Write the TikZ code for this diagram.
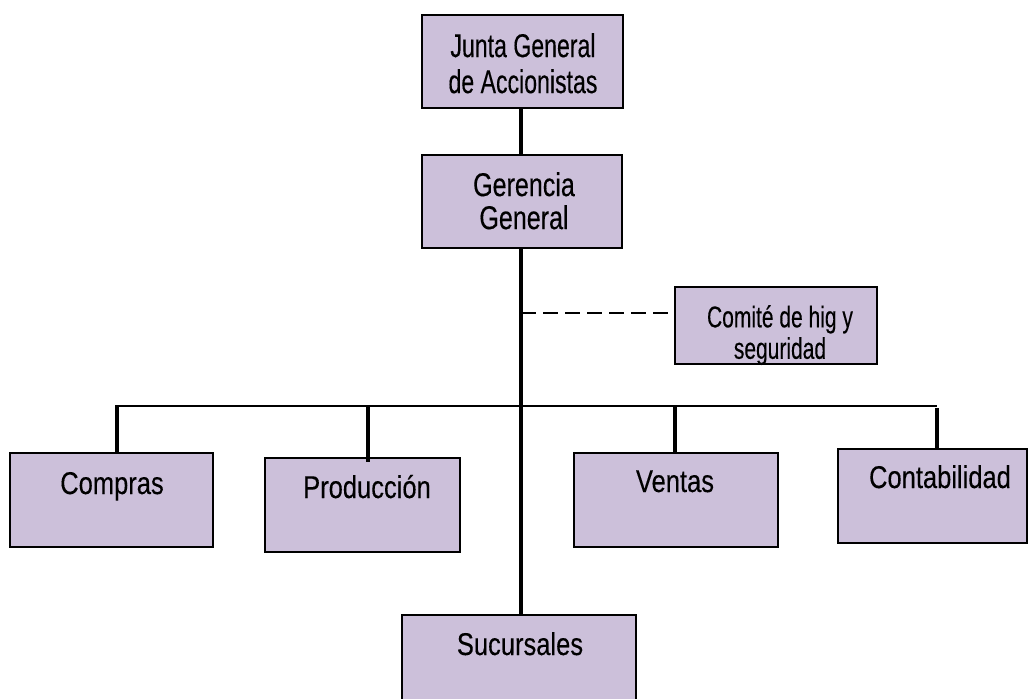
\documentclass[tikz,border=0pt]{standalone}
\usepackage{fontspec}
\setmainfont{Liberation Sans}
\newfontfamily\fmain[FakeStretch=0.81,FakeBold=0.25]{Liberation Sans}
\newfontfamily\fger[FakeStretch=0.76,FakeBold=0.25]{Liberation Sans}
\newfontfamily\fnarrow[FakeStretch=0.70,FakeBold=0.25]{Liberation Sans}
\definecolor{boxfill}{RGB}{204,192,218}
\tikzset{
  unitbox/.style={draw=black, line width=1.9pt, fill=boxfill, rectangle, inner sep=0pt},
  lbl/.style={inner sep=0pt, text=black},
  mainlbl/.style={lbl, font=\fmain\fontsize{31.5}{34}\selectfont, anchor=base},
  juntalbl/.style={lbl, font=\fnarrow\fontsize{33}{36}\selectfont, align=center, anchor=north},
  gerlbl/.style={lbl, font=\fger\fontsize{33}{33}\selectfont, align=center, anchor=north},
  comlbl/.style={lbl, font=\fnarrow\fontsize{30}{31.5}\selectfont, align=center, anchor=north},
  link/.style={line width=3.8pt},
  bar/.style={line width=1.4pt},
  dashlink/.style={line width=1.7pt, dash pattern=on 15pt off 7pt}
}
\begin{document}
\begin{tikzpicture}[x=1pt, y=-1pt]
\useasboundingbox (0,0) rectangle (1029,699);
\clip (0,0) rectangle (1029,699);

% boxes given by their corners
\newcommand{\unit}[5]{%
  \node[unitbox, minimum width={#4-#2}, minimum height={#5-#3}]
    (#1) at ({(#2+#4)/2},{(#3+#5)/2}) {};}
\unit{junta}{422}{15}{623}{108}
\unit{gerencia}{422}{155}{622}{248}
\unit{comite}{675}{287}{877}{364}
\unit{compras}{10}{453}{213}{547}
\unit{produccion}{265}{458}{460}{552}
\unit{ventas}{574}{453}{778}{547}
\unit{contab}{838}{449}{1027}{543}
\unit{sucursales}{402}{615}{636}{712}

% labels
\node[juntalbl] (tjunta) at (523,33) {Junta General\\de Accionistas};
\node[gerlbl] (tgerencia) at (524,172) {Gerencia\\General};
\node[comlbl] (tcomite) at (780,305) {Comité de hig y\\seguridad};
\node[mainlbl] (tcompras) at (112,494) {Compras};
\node[mainlbl] (tproduccion) at (367,498) {Producción};
\node[mainlbl] (tventas) at (675,492) {Ventas};
\node[mainlbl] (tcontab) at (940,488) {Contabilidad};
\node[mainlbl] (tsucursales) at (520,655) {Sucursales};

% trunk of the chart
\coordinate (trunk) at (521,248);
\draw[link] (junta.south -| trunk) -- (gerencia.north -| trunk);
\draw[link] (trunk) -- (trunk |- sucursales.north);

% advisory committee
\coordinate (dsh) at (521,313);
\draw[dashlink] (dsh) -- (dsh -| comite.west);

% departments
\coordinate (barL) at (117,406);
\coordinate (barR) at (937,406);
\draw[bar] (barL) -- (barR);
\coordinate (dpro) at (368,406);
\coordinate (dven) at (675,406);
\draw[link] ([yshift=0.7pt]barL) -- (barL |- compras.north);
\draw[link] (dpro) -- ([yshift=-5pt]dpro |- produccion.north);
\draw[link] (dven) -- (dven |- ventas.north);
\draw[link] ([yshift=-2pt]barR) -- (barR |- contab.north);
\end{tikzpicture}
\end{document}
